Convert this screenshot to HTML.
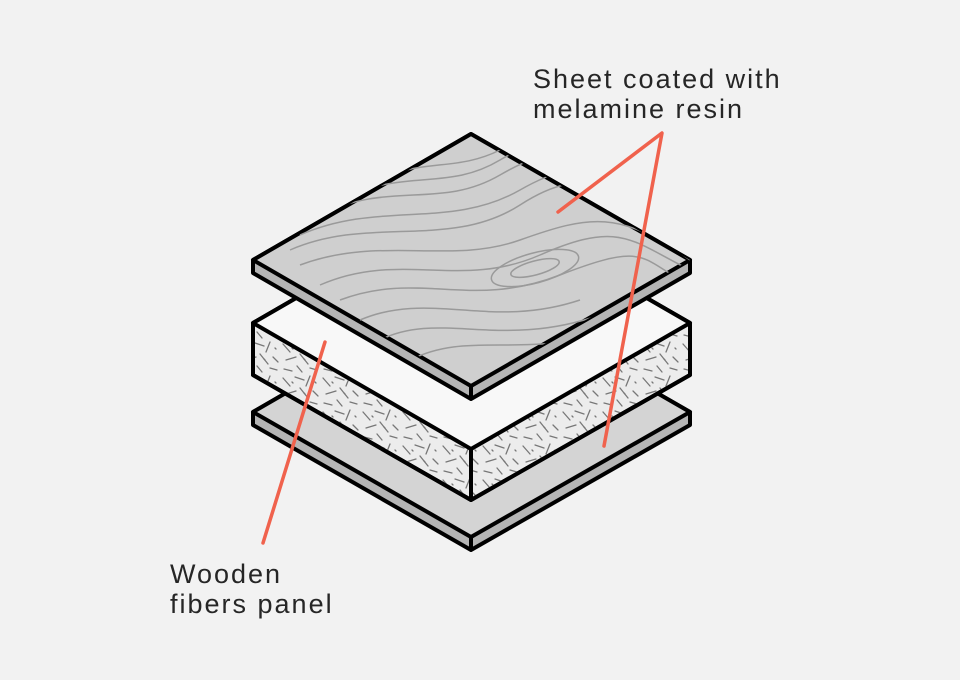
<!DOCTYPE html>
<html><head><style>
html,body{margin:0;padding:0;background:#f2f2f2;}
svg{display:block;}
text{font-family:"Liberation Sans",sans-serif;font-size:27px;letter-spacing:2px;fill:#262626;}
</style></head><body>
<svg width="960" height="680" viewBox="0 0 960 680" xmlns="http://www.w3.org/2000/svg">
<defs>
<pattern id="fib" width="40" height="34" patternUnits="userSpaceOnUse">
<g stroke="#777" stroke-width="1.3" stroke-linecap="round">
<line x1="3" y1="4" x2="10" y2="12"/><line x1="15" y1="3" x2="24" y2="6"/>
<line x1="30" y1="2" x2="26" y2="12"/><line x1="6" y1="20" x2="16" y2="17"/>
<line x1="20" y1="14" x2="28" y2="24"/><line x1="33" y1="17" x2="38" y2="22"/>
<line x1="4" y1="29" x2="12" y2="31"/><line x1="17" y1="26" x2="22" y2="32"/>
<line x1="30" y1="28" x2="37" y2="30"/><line x1="12" y1="8" x2="13" y2="9"/>
<line x1="35" y1="8" x2="36" y2="9"/><line x1="24" y1="19" x2="25" y2="20"/>
</g></pattern>
<clipPath id="topc"><polygon points="471,134 690,260 471,386 253,260"/></clipPath>
</defs>
<g stroke="#000" stroke-width="4" stroke-linejoin="round">
<polygon points="253,412 471,286 690,412 690,425 471,550 253,425" fill="#b5b5b5"/>
<polygon points="471,286 690,412 471,537 253,412" fill="#d4d4d4"/>
<line x1="471" y1="537" x2="471" y2="550"/>
<polygon points="253,323 471,197 690,323 690,375 471,500 253,375" fill="#ececec"/>
<polygon points="253,323 471,449 471,500 253,375" fill="url(#fib)" stroke="none"/>
<polygon points="471,449 690,323 690,375 471,500" fill="url(#fib)" stroke="none"/>
<polygon points="253,323 471,197 690,323 690,375 471,500 253,375" fill="none"/>
<polygon points="471,197 690,323 471,449 253,323" fill="#f8f8f8"/>
<line x1="471" y1="449" x2="471" y2="500"/>
<polygon points="253,260 471,134 690,260 690,273 471,399 253,273" fill="#b5b5b5"/>
<polygon points="471,134 690,260 471,386 253,260" fill="#cfcfcf"/>
<line x1="471" y1="386" x2="471" y2="399"/>
</g>
<g clip-path="url(#topc)" fill="none" stroke="#9a9a9a" stroke-width="1.5">
<path d="M300,235 C380,200 450,230 520,190 S620,170 660,230"/>
<path d="M290,250 C370,215 450,250 520,205 S620,190 670,245"/>
<path d="M300,265 C380,235 450,265 520,240 S620,210 690,260"/>
<path d="M320,285 C400,250 460,290 540,255 S630,240 690,270"/>
<path d="M340,300 C420,270 470,310 560,275 S640,260 690,285"/>
<path d="M360,320 C430,290 490,330 580,300"/>
<path d="M380,340 C440,310 500,350 600,315"/>
<path d="M320,215 C390,180 440,210 500,175 S590,150 640,195"/>
<path d="M350,195 C410,170 450,190 500,160 S570,150 610,175"/>
<path d="M390,175 C430,160 460,170 500,150"/>
<ellipse cx="535" cy="268" rx="25" ry="7" transform="rotate(-15 535 268)"/>
<ellipse cx="535" cy="268" rx="45" ry="15" transform="rotate(-15 535 268)"/>
<path d="M410,360 C470,330 520,360 620,330"/>
</g>
<g stroke="#f0624d" stroke-width="3.5" stroke-linecap="round" stroke-linejoin="round" fill="none">
<polyline points="558,212 662,133 604,446"/>
<line x1="325" y1="342" x2="263" y2="543"/>
</g>
<text x="533" y="88">Sheet coated with</text>
<text x="533" y="118">melamine resin</text>
<text x="170" y="583">Wooden</text>
<text x="170" y="613">fibers panel</text>
</svg>
</body></html>
